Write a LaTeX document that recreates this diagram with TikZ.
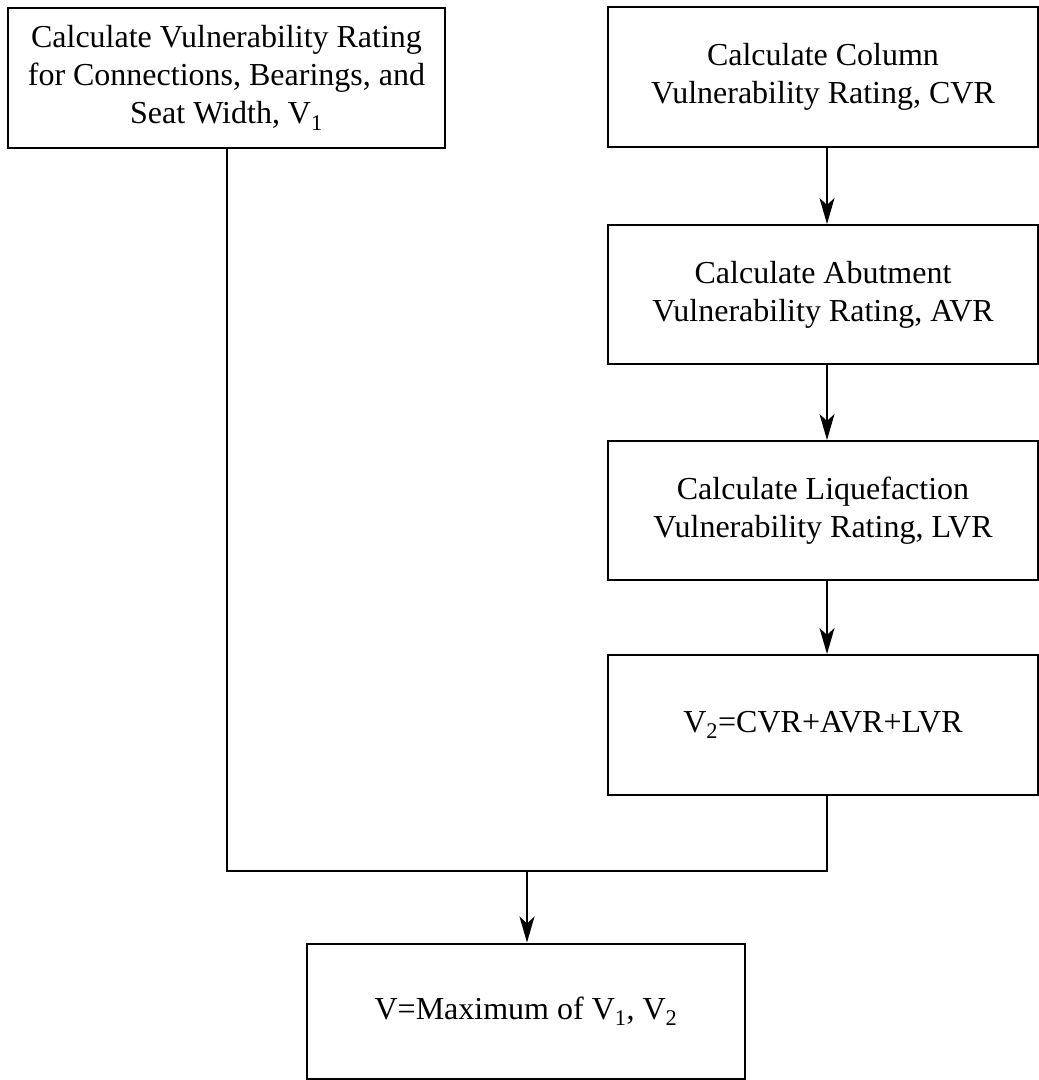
\documentclass[tikz,border=0pt]{standalone}
\usepackage{fontspec}
\setmainfont{Liberation Serif}
\usetikzlibrary{arrows.meta}
\begin{document}
\begin{tikzpicture}[x=1pt,y=-1pt,
  box/.style={draw,line width=2pt,align=center,inner sep=0pt,
    font=\fontsize{32}{38}\selectfont},
  conn/.style={line width=2pt},
  arr/.style={conn,-{Stealth[length=26pt,width=15pt,inset=7pt]}}]
\useasboundingbox (0,0) rectangle (1039,1080);
\node[box,minimum width=437pt,minimum height=140pt] (b1) at (226.5,78)
  {Calculate Vulnerability Rating\\for Connections, Bearings, and\\Seat Width, V\textsubscript{1}};
\node[box,minimum width=430pt,minimum height=140pt] (b2) at (823,77)
  {Calculate Column\\Vulnerability Rating, CVR};
\node[box,minimum width=430pt,minimum height=139pt] (b3) at (823,294.5)
  {Calculate Abutment\\Vulnerability Rating, AVR};
\node[box,minimum width=430pt,minimum height=139pt] (b4) at (823,510.5)
  {Calculate Liquefaction\\Vulnerability Rating, LVR};
\node[box,minimum width=430pt,minimum height=140pt] (b5) at (823,725)
  {V\textsubscript{2}=CVR+AVR+LVR};
\node[box,minimum width=438pt,minimum height=135pt] (b6) at (526,1011)
  {V=Maximum of V\textsubscript{1}, V\textsubscript{2}};
\coordinate (m) at (527,871);
\draw[arr] ([xshift=4pt]b2.south) -- ([xshift=4pt]b3.north);
\draw[arr] ([xshift=4pt]b3.south) -- ([xshift=4pt]b4.north);
\draw[arr] ([xshift=4pt]b4.south) -- ([xshift=4pt]b5.north);
\draw[conn] (b1.south) |- (m) -| ([xshift=4pt]b5.south);
\draw[arr] (m) -- (m |- b6.north);
\end{tikzpicture}
\end{document}
